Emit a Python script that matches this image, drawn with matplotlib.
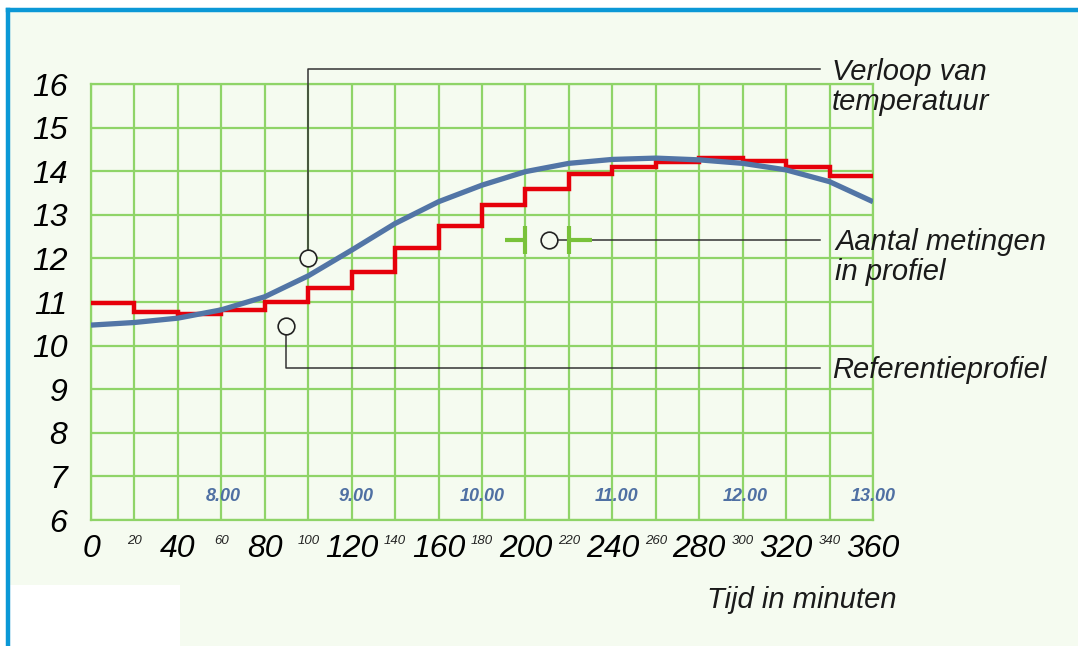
import matplotlib.pyplot as plt
from matplotlib import patches

# minutes, step profile and smooth temperature curve
minutes = list(range(0, 361, 20))
referentie = [10.98, 10.78, 10.72, 10.82, 11.0, 11.32, 11.69, 12.25, 12.74,
              13.22, 13.6, 13.93, 14.1, 14.2, 14.3, 14.23, 14.1, 13.88]
verloop = [10.47, 10.53, 10.63, 10.82, 11.12, 11.6, 12.19, 12.8, 13.3, 13.68,
           13.99, 14.18, 14.27, 14.30, 14.26, 14.18, 14.03, 13.76, 13.30]

major_ticks = list(range(0, 361, 40))
minor_ticks = list(range(20, 361, 40))
y_ticks = list(range(6, 17))
hour_labels = ['8.00', '9.00', '10.00', '11.00', '12.00', '13.00']
hour_pos = [61, 122, 180, 242, 301, 360]

bg = '#f5fbf0'
grid_green = '#8fd468'
font = ['Liberation Sans', 'DejaVu Sans']
big = 21

fig = plt.figure(figsize=(10.78, 6.46), dpi=100, facecolor='white')
# blue frame top/left and light background
fig.add_artist(patches.Rectangle((8 / 1078, 0), 1, 1 - 10 / 646, transform=fig.transFigure,
                                 facecolor=bg, edgecolor='none', zorder=-5))
fig.add_artist(patches.Rectangle((0, 0), 180 / 1078, 61 / 646, transform=fig.transFigure,
                                 facecolor='white', edgecolor='none', zorder=-4))
fig.add_artist(plt.Line2D([8 / 1078, 1], [1 - 9.5 / 646] * 2, color='#0b98d6', lw=3.2))
fig.add_artist(plt.Line2D([8 / 1078] * 2, [0, 1 - 9.5 / 646], color='#0b98d6', lw=3.2))

ax = fig.add_axes([91 / 1078, 1 - 520 / 646, 782 / 1078, 436 / 646])
ax.set_facecolor('none')
ax.set_xlim(0, 360)
ax.set_ylim(6, 16)

ax.set_xticks(major_ticks)
ax.set_xticks(minor_ticks, minor=True)
ax.set_yticks(y_ticks)
ax.set_xticklabels([str(t) for t in major_ticks], fontsize=23, style='italic', family=font)
ax.set_xticklabels([str(t) for t in minor_ticks], minor=True, fontsize=9.5, style='italic',
                   family=font, color='#222222')
ax.set_yticklabels([str(t) for t in y_ticks], fontsize=23, style='italic', family=font)
ax.tick_params(axis='x', which='major', length=0, pad=10)
ax.tick_params(axis='x', which='minor', length=0, pad=11)
ax.tick_params(axis='y', length=0, pad=17)

ax.grid(True, which='both', color=grid_green, lw=1.6)
for s in ax.spines.values():
    s.set_color(grid_green)
    s.set_linewidth(1.6)

ax.step(minutes, referentie + [referentie[-1]], where='post', color='#e6000a', lw=3.2,
        solid_joinstyle='miter', zorder=3)
ax.plot(minutes, verloop, color='#5275a6', lw=3.8, solid_capstyle='butt',
        solid_joinstyle='round', zorder=4)

for lab, x in zip(hour_labels, hour_pos):
    ax.text(x, 6.53, lab, ha='center', va='center', fontsize=13, style='italic',
            weight='bold', color='#4f70a3', family=font)

# annotations
kw = dict(color='#333333', lw=1.1, clip_on=False, zorder=5)
mk = dict(marker='o', ms=12, mfc=bg, mec='#222222', mew=1.2, clip_on=False, zorder=6)
txt = dict(fontsize=big, style='italic', family=font, va='center', color='#1a1a1a')

ax.plot([100, 100, 335.6], [12.0, 16.34, 16.34], **kw)
ax.plot([100], [12.0], **mk)
ax.text(341, 16.28, 'Verloop van', **txt)
ax.text(341, 15.58, 'temperatuur', **txt)

ax.plot([211, 335.6], [12.42, 12.42], **kw)
g = dict(color='#79c23a', lw=3, solid_capstyle='butt', zorder=5)
ax.plot([190.5, 200], [12.42, 12.42], **g)
ax.plot([200, 200], [12.1, 12.74], **g)
ax.plot([220, 230.5], [12.42, 12.42], **g)
ax.plot([220, 220], [12.1, 12.74], **g)
ax.plot([211], [12.42], **mk)
ax.text(342.5, 12.38, 'Aantal metingen', **txt)
ax.text(342.5, 11.68, 'in profiel', **txt)

ax.plot([89.8, 89.8, 335.6], [10.45, 9.49, 9.49], **kw)
ax.plot([89.8], [10.45], **mk)
ax.text(341, 9.44, 'Referentieprofiel', **txt)

ax.text(371, 4.17, 'Tijd in minuten', ha='right', va='center', fontsize=big, style='italic',
        family=font, color='#1a1a1a', clip_on=False)

fig.savefig('out.png', dpi=100, facecolor='white')
